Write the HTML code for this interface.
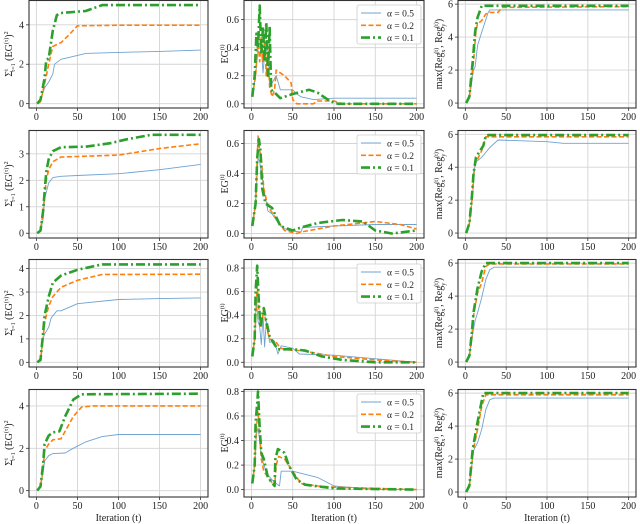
<!DOCTYPE html>
<html><head><meta charset="utf-8"><style>
html,body{margin:0;padding:0;background:#fff;width:640px;height:524px;overflow:hidden}
svg text{font-family:"Liberation Serif",serif;fill:#222}
</style></head><body>
<svg id="fig" width="640" height="524" xmlns="http://www.w3.org/2000/svg"></svg>
<script>
const seriesNames = ["α = 0.5","α = 0.2","α = 0.1"];
const xTicks = [0,50,100,150,200];
// Row 1
const p11_a05=[[1,0],[5,0.2],[10,0.8],[15,1.1],[20,1.5],[22,2.0],[30,2.25],[50,2.45],[60,2.55],[100,2.6],[150,2.65],[200,2.72]];
const p11_a02=[[1,0],[5,0.1],[10,1.0],[15,2.0],[20,2.9],[30,3.1],[40,3.5],[50,3.95],[100,3.98],[200,3.98]];
const p11_a01=[[1,0],[5,0.2],[10,1.3],[12,2.2],[15,2.3],[20,3.7],[25,4.5],[30,4.6],[60,4.7],[80,5.0],[200,5.0]];
const p12_a05=[[1,0.05],[5,0.2],[8,0.38],[10,0.35],[12,0.4],[14,0.22],[16,0.35],[18,0.38],[20,0.4],[22,0.15],[25,0.15],[30,0.2],[35,0.1],[50,0.1],[55,0.07],[60,0.05],[75,0.03],[100,0.04],[200,0.04]];
const p12_a02=[[1,0.05],[5,0.2],[8,0.45],[10,0.3],[12,0.48],[14,0.3],[16,0.45],[18,0.2],[20,0.4],[22,0.12],[25,0.05],[28,0.1],[30,0.24],[40,0.2],[48,0.15],[50,0.03],[55,0.0],[75,0.0],[80,0.02],[100,0.02],[110,0],[200,0]];
const p12_a01=[[1,0.05],[4,0.2],[6,0.5],[8,0.4],[10,0.7],[12,0.35],[14,0.55],[16,0.3],[18,0.58],[20,0.2],[22,0.55],[24,0.1],[28,0.08],[35,0.04],[40,0.05],[50,0.07],[70,0.1],[80,0.08],[95,0.02],[105,0],[200,0]];
const p13_a05=[[1,0],[5,0.3],[10,2.0],[12,2.2],[15,3.5],[20,4.3],[28,5.5],[30,5.65],[200,5.65]];
const p13_a02=[[1,0],[5,0.4],[10,2.5],[13,4.4],[15,4.8],[20,5.0],[25,5.4],[30,5.5],[40,5.5],[45,5.8],[200,5.85]];
const p13_a01=[[1,0],[5,0.4],[9,2.5],[12,4.3],[15,5.2],[18,5.6],[20,5.9],[200,5.9]];
// Row 2
const p21_a05=[[1,0],[5,0.1],[8,0.5],[10,1.3],[15,1.9],[20,2.1],[30,2.15],[50,2.18],[100,2.25],[150,2.4],[200,2.6]];
const p21_a02=[[1,0],[5,0.1],[8,0.8],[12,2.0],[15,2.4],[20,2.7],[30,2.88],[50,2.9],[100,2.95],[130,3.1],[150,3.2],[200,3.38]];
const p21_a01=[[1,0],[5,0.1],[8,0.8],[12,2.3],[15,2.8],[20,3.1],[30,3.25],[60,3.27],[90,3.4],[110,3.55],[140,3.72],[200,3.72]];
const p22_a05=[[1,0.05],[5,0.2],[8,0.5],[10,0.48],[12,0.4],[15,0.3],[20,0.15],[25,0.13],[35,0.05],[45,0.02],[60,0.01],[62,0.04],[100,0.05],[150,0.06],[200,0.06]];
const p22_a02=[[1,0.05],[5,0.2],[8,0.65],[10,0.55],[12,0.5],[15,0.3],[20,0.18],[30,0.1],[40,0.02],[55,0.0],[60,0.01],[100,0.05],[150,0.08],[180,0.06],[200,0.03]];
const p22_a01=[[1,0.05],[5,0.2],[7,0.5],[9,0.63],[11,0.55],[13,0.3],[17,0.2],[25,0.17],[35,0.05],[50,0.02],[60,0.04],[80,0.07],[110,0.09],[135,0.08],[150,0.02],[170,0.0],[200,0.02]];
const p23_a05=[[1,0],[5,0.5],[8,1.8],[10,3.0],[12,4.3],[15,4.4],[20,4.6],[30,5.2],[40,5.65],[100,5.55],[120,5.45],[200,5.45]];
const p23_a02=[[1,0],[5,0.6],[8,2],[10,3.5],[12,4.2],[15,4.5],[20,5.0],[25,5.85],[200,5.85]];
const p23_a01=[[1,0],[5,0.6],[8,2.2],[10,3.6],[13,4.6],[18,5.0],[22,5.3],[25,5.9],[28,5.95],[200,5.95]];
// Row 3
const p31_a05=[[1,0],[5,0.2],[8,1.0],[10,1.2],[15,1.5],[18,1.9],[25,2.2],[30,2.2],[40,2.35],[50,2.5],[100,2.68],[150,2.72],[200,2.75]];
const p31_a02=[[1,0],[5,0.1],[8,1.0],[10,1.7],[15,2.4],[20,2.8],[30,3.2],[50,3.5],[80,3.75],[200,3.76]];
const p31_a01=[[1,0],[5,0.1],[8,1.2],[10,2.0],[15,2.8],[20,3.4],[30,3.7],[50,3.95],[80,4.18],[200,4.18]];
const p32_a05=[[1,0.05],[4,0.2],[6,0.55],[8,0.35],[10,0.3],[12,0.15],[14,0.4],[16,0.13],[18,0.35],[22,0.17],[28,0.18],[32,0.07],[36,0.14],[50,0.12],[58,0.07],[100,0.06],[200,0.0]];
const p32_a02=[[1,0.05],[4,0.2],[7,0.65],[9,0.45],[11,0.3],[13,0.35],[15,0.47],[18,0.3],[22,0.2],[30,0.17],[35,0.12],[50,0.1],[60,0.1],[100,0.05],[150,0.02],[200,0.0]];
const p32_a01=[[1,0.05],[4,0.2],[5,0.6],[7,0.82],[9,0.5],[11,0.3],[13,0.4],[15,0.46],[18,0.35],[22,0.22],[28,0.15],[32,0.11],[50,0.11],[65,0.1],[85,0.05],[110,0.02],[150,0.0],[200,0.0]];
const p33_a05=[[1,0],[5,0.4],[10,2.0],[12,2.5],[15,3.0],[20,3.9],[25,5.0],[30,5.6],[35,5.75],[200,5.75]];
const p33_a02=[[1,0],[5,0.4],[8,1.5],[10,2.8],[15,4.2],[20,4.8],[25,5.8],[30,5.95],[200,5.95]];
const p33_a01=[[1,0],[5,0.4],[8,1.8],[10,3.0],[15,4.5],[20,5.5],[25,6.0],[200,6.0]];
// Row 4
const p41_a05=[[1,0],[5,0.2],[8,0.8],[10,1.4],[15,1.65],[20,1.75],[35,1.78],[45,2.0],[60,2.3],[80,2.55],[100,2.65],[200,2.65]];
const p41_a02=[[1,0],[5,0.2],[8,1.0],[10,1.9],[15,2.2],[20,2.4],[30,2.45],[35,2.8],[45,3.5],[55,3.95],[70,4.0],[200,4.0]];
const p41_a01=[[1,0],[5,0.2],[8,1.2],[10,2.2],[15,2.6],[20,2.75],[28,2.8],[35,3.5],[45,4.3],[55,4.55],[200,4.58]];
const p42_a05=[[1,0.05],[4,0.2],[6,0.45],[8,0.5],[10,0.4],[12,0.28],[15,0.2],[20,0.12],[25,0.08],[30,0.05],[34,0.03],[36,0.15],[50,0.15],[80,0.1],[100,0.03],[150,0.0],[200,0.0]];
const p42_a02=[[1,0.05],[4,0.2],[6,0.5],[8,0.64],[10,0.45],[12,0.25],[15,0.15],[20,0.1],[28,0.03],[30,0.2],[33,0.27],[40,0.25],[50,0.15],[60,0.05],[80,0.03],[100,0.02],[200,0.0]];
const p42_a01=[[1,0.05],[4,0.2],[5,0.55],[7,0.7],[8,0.8],[10,0.5],[12,0.3],[15,0.25],[20,0.1],[28,0.03],[29,0.25],[32,0.33],[40,0.3],[45,0.2],[55,0.08],[65,0.04],[100,0.01],[200,0.0]];
const p43_a05=[[1,0],[5,0.3],[10,2.5],[15,3.0],[20,3.8],[25,5.0],[30,5.6],[35,5.7],[200,5.7]];
const p43_a02=[[1,0],[5,0.4],[10,2.6],[15,3.8],[20,5.2],[25,5.9],[200,5.9]];
const p43_a01=[[1,0],[5,0.4],[9,2.6],[14,4.0],[18,5.0],[22,6.0],[200,6.0]];

const yTicks = [[[0,2,4],[0,0.2,0.4,0.6],[0,2,4,6]],
  [[0,1,2,3],[0,0.2,0.4,0.6],[0,2,4,6]],
  [[0,1,2,3,4],[0,0.2,0.4,0.6,0.8],[0,2,4,6]],
  [[0,2,4],[0,0.2,0.4,0.6,0.8],[0,2,4,6]]];
const yLims = [[[-0.22,5.26],[-0.03,0.74],[-0.3,6.25]],
  [[-0.18,3.9],[-0.03,0.69],[-0.3,6.26]],
  [[-0.2,4.41],[-0.04,0.877],[-0.3,6.25]],
  [[-0.3,4.8],[-0.06,0.82],[-0.3,6.25]]];
const data = [[[p11_a05,p11_a02,p11_a01],[p12_a05,p12_a02,p12_a01],[p13_a05,p13_a02,p13_a01]],
  [[p21_a05,p21_a02,p21_a01],[p22_a05,p22_a02,p22_a01],[p23_a05,p23_a02,p23_a01]],
  [[p31_a05,p31_a02,p31_a01],[p32_a05,p32_a02,p32_a01],[p33_a05,p33_a02,p33_a01]],
  [[p41_a05,p41_a02,p41_a01],[p42_a05,p42_a02,p42_a01],[p43_a05,p43_a02,p43_a01]]];

const NS="http://www.w3.org/2000/svg";
const svg=document.getElementById('fig');
function mk(tag,attrs,parent){const e=document.createElementNS(NS,tag);for(const k in attrs)e.setAttribute(k,attrs[k]);(parent||svg).appendChild(e);return e;}
const colL=[29,244,458], colR=[208,424,636];
const rowT=[0,130,259,389], rowH=108;
const styles=[{c:'#6fa3d2',w:0.9,d:''},{c:'#ff7f0e',w:1.6,d:'5,2.5'},{c:'#2ca02c',w:2.6,d:'9,3,2,3'}];
const ylabels=['Σ<tspan font-size="6" dy="-4">t</tspan><tspan font-size="6" dy="7" dx="-3">τ=1</tspan><tspan dy="-3"> (EG</tspan><tspan font-size="6" dy="-4">(τ)</tspan><tspan dy="4">)</tspan><tspan font-size="6" dy="-4">2</tspan>',
 'EG<tspan font-size="6" dy="-4">(t)</tspan>',
 'max(Reg<tspan font-size="6" dy="3">x</tspan><tspan font-size="6" dy="-7" dx="-4">(t)</tspan><tspan dy="4">, Reg</tspan><tspan font-size="6" dy="3">y</tspan><tspan font-size="6" dy="-7" dx="-4">(t)</tspan><tspan dy="4">)</tspan>'];
const ylabX=[12,228,442];
for(let r=0;r<4;r++)for(let c=0;c<3;c++){
  const g=mk('g',{});
  
  
  const L=colL[c],R=colR[c],T=rowT[r],B=T+rowH;
  const [y0,y1]=yLims[r][c];
  const sx=v=>L+(v+9)/218*(R-L);
  const sy=v=>B-(v-y0)/(y1-y0)*rowH;
  xTicks.forEach(t=>{
    const gl=mk('line',{x1:sx(t),x2:sx(t),y1:T,y2:B,stroke:'#d4d4d4','stroke-width':0.9},g);
    
    
    mk('line',{x1:sx(t),x2:sx(t),y1:B,y2:B+3,stroke:'#333','stroke-width':0.8},g);
    const tx=mk('text',{x:sx(t),y:B+12,'font-size':10,'text-anchor':'middle'},g);
    tx.textContent=t;
    
    
  });
  yTicks[r][c].forEach(t=>{
    const gl=mk('line',{x1:L,x2:R,y1:sy(t),y2:sy(t),stroke:'#d4d4d4','stroke-width':0.9},g);
    
    
    mk('line',{x1:L-3,x2:L,y1:sy(t),y2:sy(t),stroke:'#333','stroke-width':0.8},g);
    const tx=mk('text',{x:L-5,y:sy(t)+3.5,'font-size':10,'text-anchor':'end'},g);
    tx.textContent=(c===1?t.toFixed(1):t);
    
    
  });
  data[r][c].forEach((s,i)=>{
    const st=styles[i];
    const p=mk('polyline',{points:s.map(d=>sx(d[0]).toFixed(1)+','+sy(d[1]).toFixed(1)).join(' '),fill:'none',stroke:st.c,'stroke-width':st.w,'stroke-dasharray':st.d,'stroke-linejoin':'round'},g);
    
    
  });
  const fr=mk('rect',{x:L,y:T+0.5,width:R-L,height:rowH-0.5,fill:'none',stroke:'#333','stroke-width':1.1},g);
  
  
  const yl=mk('text',{x:0,y:0,'font-size':10,'text-anchor':'middle',transform:'translate('+ylabX[c]+','+(T+rowH/2)+') rotate(-90)'},g);
  yl.innerHTML=ylabels[c];
  
  
  if(c===1){
    const lg=mk('g',{},g);
    
    
    const lx=R-67,ly=T+5;
    mk('rect',{x:lx,y:ly,width:64,height:39,rx:2,fill:'#fff','fill-opacity':0.85,stroke:'#ccc','stroke-width':0.8},lg);
    seriesNames.forEach((n,i)=>{
      const st=styles[i],yy=ly+8+i*12.3;
      const e=mk('g',{},lg);
      
      
      mk('line',{x1:lx+4,x2:lx+24,y1:yy,y2:yy,stroke:st.c,'stroke-width':st.w,'stroke-dasharray':st.d},e);
      const t=mk('text',{x:lx+30,y:yy+3.5,'font-size':9.5},e);t.textContent=n;
    });
  }
  if(r===3){
    const xl=mk('text',{x:(L+R)/2,y:521,'font-size':10,'text-anchor':'middle'},g);
    xl.textContent='Iteration (t)';
    
    
  }
}
</script>
</body></html>
